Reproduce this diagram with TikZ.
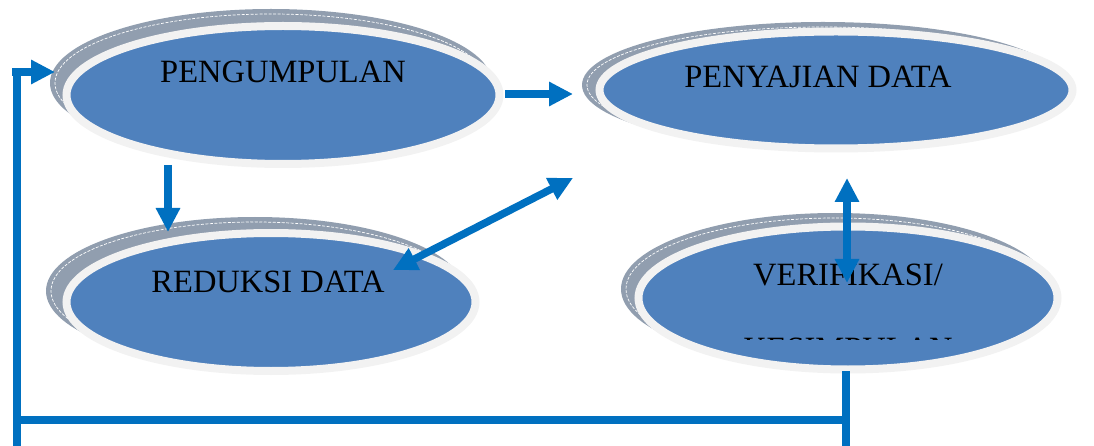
\documentclass[tikz,border=0pt]{standalone}
\usepackage{fontspec}
\setmainfont{Liberation Serif}
\usetikzlibrary{shapes.geometric,arrows.meta}
\definecolor{cellblue}{HTML}{4F81BD}
\definecolor{rimgray}{HTML}{F2F2F2}
\definecolor{shade}{HTML}{919EAF}
\definecolor{flow}{HTML}{0070C0}
\begin{document}
\begin{tikzpicture}[x=1pt,y=-1pt,
  back/.style={ellipse, inner sep=0pt, fill=shade},
  seam/.style={ellipse, inner sep=0pt, draw=white, dash pattern=on 3pt off 1.5pt, line width=0.7pt},
  cell/.style={ellipse, inner sep=0pt, fill=cellblue, draw=rimgray, line width=8pt},
  lbl/.style={anchor=base, inner sep=0pt, font=\fontsize{32.5}{38}\selectfont},
  flowline/.style={draw=flow, line width=7.5pt},
  onetip/.style={flowline, -{Triangle[length=24pt,width=23pt]}},
  twotip/.style={flowline, {Triangle[length=24pt,width=23pt]}-{Triangle[length=24pt,width=23pt]}}
]
\useasboundingbox (0,0) rectangle (1094,446);

% PENGUMPULAN
\node[back, minimum width=442, minimum height=148] (pengb) at (271,83) {};
\node[seam, minimum width=432, minimum height=138] (pengs) at (271,83) {};
\node[cell, minimum width=433, minimum height=138] (peng) at (283,95) {};
\node[lbl] (pengt) at (283,83) {PENGUMPULAN};

% PENYAJIAN DATA
\node[back, minimum width=482, minimum height=126] (sajib) at (823,85) {};
\node[seam, minimum width=472, minimum height=116] (sajis) at (823,85) {};
\node[cell, minimum width=473, minimum height=117] (saji) at (836,90) {};
\node[lbl] (sajit) at (818,88) {PENYAJIAN DATA};

% REDUKSI DATA
\node[back, minimum width=418, minimum height=148] (redub) at (255,291) {};
\node[seam, minimum width=408, minimum height=138] (redus) at (255,291) {};
\node[cell, minimum width=409, minimum height=138] (redu) at (271,302) {};
\node[lbl] (redut) at (268,292) {REDUKSI DATA};

% VERIFIKASI / KESIMPULAN (second line cut off by the frame)
\node[back, minimum width=428, minimum height=152] (verib) at (835,289) {};
\node[seam, minimum width=418, minimum height=142] (veris) at (835,289) {};
\node[cell, minimum width=419, minimum height=143] (veri) at (848,298) {};
\node[lbl] (verit) at (848,285) {VERIFIKASI/};
\begin{scope}
  \clip (700,300) rectangle (1000,339.5);
  \node[lbl] (kest) at (848,359) {KESIMPULAN};
\end{scope}

% connectors
\coordinate (pengR) at (505,94);
\coordinate (sajiL) at (573,94);
\coordinate (pengD) at (168,165);
\coordinate (reduT) at (168,232);
\coordinate (reduR) at (393,270);
\coordinate (sajiD) at (573,178);
\coordinate (sajiB) at (847,178);
\coordinate (veriT) at (847,283);
\coordinate (veriB) at (846,371);
\coordinate (veriE) at (846,446);
\coordinate (loopR) at (846,420);
\coordinate (loopL) at (17,420);
\coordinate (loopE) at (17,446);
\coordinate (loopT) at (17,68);
\coordinate (inS) at (12,72);
\coordinate (pengL) at (55,72);

\draw[onetip] (pengR) -- (sajiL);
\draw[onetip] (pengD) -- (reduT);
\draw[twotip] (reduR) -- (sajiD);
\draw[twotip] (sajiB) -- (veriT);
\draw[flowline] (veriB) -- (veriE);
\draw[flowline] (loopL) -- (loopR);
\draw[flowline] (loopE) -- (loopT);
\draw[onetip] (inS) -- (pengL);
\end{tikzpicture}
\end{document}
